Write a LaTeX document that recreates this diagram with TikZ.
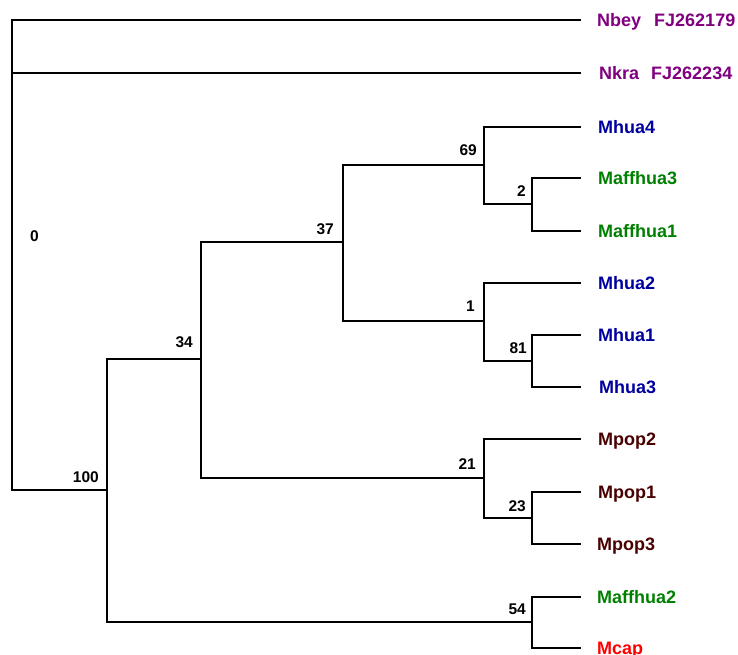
\documentclass[tikz,border=0pt]{standalone}
\usepackage{fontspec}
\setmainfont{Liberation Sans}
\definecolor{cpurple}{RGB}{128,0,128}
\definecolor{cblue}{RGB}{0,0,160}
\definecolor{cgreen}{RGB}{0,128,0}
\definecolor{cbrown}{RGB}{72,0,0}
\definecolor{cred}{RGB}{255,0,0}
\begin{document}
\begin{tikzpicture}[x=1pt,y=-1pt,
  branch/.style={draw=black,line width=2pt,line cap=rect,line join=miter},
  leaflab/.style={anchor=base west,inner sep=0pt,font=\fontsize{18}{20}\selectfont\bfseries},
  boot/.style={anchor=base east,inner sep=0pt,font=\fontsize{15.5}{18}\selectfont\bfseries}]
\useasboundingbox (0,0) rectangle (738,655);
% leaf end points
\coordinate (e1) at (580,20);
\coordinate (e2) at (580,73);
\coordinate (e3) at (580,127);
\coordinate (e4) at (580,178);
\coordinate (e5) at (580,231);
\coordinate (e6) at (580,283);
\coordinate (e7) at (580,335);
\coordinate (e8) at (580,387);
\coordinate (e9) at (580,439);
\coordinate (e10) at (580,492);
\coordinate (e11) at (580,544);
\coordinate (e12) at (580,597);
\coordinate (e13) at (580,648);
% internal nodes
\coordinate (root) at (12,490);
\coordinate (n100) at (107,490);
\coordinate (n34) at (201,359);
\coordinate (n37) at (343,242);
\coordinate (n69) at (484,165);
\coordinate (n2) at (532,204);
\coordinate (n1) at (484,321);
\coordinate (n81) at (532,361);
\coordinate (n21) at (484,478);
\coordinate (n23) at (532,518);
\coordinate (n54) at (532,622);
% branches
\path[branch] (e1) -| (root);
\path[branch] (e2) -| (root);
\path[branch] (n100) -| (root);
\path[branch] (n34) -| (n100);
\path[branch] (n54) -| (n100);
\path[branch] (n37) -| (n34);
\path[branch] (n21) -| (n34);
\path[branch] (n69) -| (n37);
\path[branch] (n1) -| (n37);
\path[branch] (e3) -| (n69);
\path[branch] (n2) -| (n69);
\path[branch] (e4) -| (n2);
\path[branch] (e5) -| (n2);
\path[branch] (e6) -| (n1);
\path[branch] (n81) -| (n1);
\path[branch] (e7) -| (n81);
\path[branch] (e8) -| (n81);
\path[branch] (e9) -| (n21);
\path[branch] (n23) -| (n21);
\path[branch] (e10) -| (n23);
\path[branch] (e11) -| (n23);
\path[branch] (e12) -| (n54);
\path[branch] (e13) -| (n54);
% leaf labels
\node[leaflab,text=cpurple] (t1) at ([xshift=17pt,yshift=-6.5pt]e1) {Nbey\hspace{13pt}FJ262179};
\node[leaflab,text=cpurple] (t2) at ([xshift=19pt,yshift=-6.5pt]e2) {Nkra\hspace{12pt}FJ262234};
\node[leaflab,text=cblue] (t3) at ([xshift=18pt,yshift=-6.5pt]e3) {Mhua4};
\node[leaflab,text=cgreen] (t4) at ([xshift=18pt,yshift=-6.5pt]e4) {Maffhua3};
\node[leaflab,text=cgreen] (t5) at ([xshift=18pt,yshift=-6.5pt]e5) {Maffhua1};
\node[leaflab,text=cblue] (t6) at ([xshift=18pt,yshift=-6.5pt]e6) {Mhua2};
\node[leaflab,text=cblue] (t7) at ([xshift=18pt,yshift=-6.5pt]e7) {Mhua1};
\node[leaflab,text=cblue] (t8) at ([xshift=19pt,yshift=-6.5pt]e8) {Mhua3};
\node[leaflab,text=cbrown] (t9) at ([xshift=18pt,yshift=-6.5pt]e9) {Mpop2};
\node[leaflab,text=cbrown] (t10) at ([xshift=18pt,yshift=-6.5pt]e10) {Mpop1};
\node[leaflab,text=cbrown] (t11) at ([xshift=17pt,yshift=-6.5pt]e11) {Mpop3};
\node[leaflab,text=cgreen] (t12) at ([xshift=17pt,yshift=-6.5pt]e12) {Maffhua2};
\node[leaflab,text=cred] (t13) at ([xshift=17pt,yshift=-6.5pt]e13) {Mcap};
% bootstrap values
\node[boot] (b0) at (39,241.5) {0};
\node[boot] (b100) at ([xshift=-8pt,yshift=8pt]n100) {100};
\node[boot] (b34) at ([xshift=-8pt,yshift=12pt]n34) {34};
\node[boot] (b37) at ([xshift=-9pt,yshift=8pt]n37) {37};
\node[boot] (b69) at ([xshift=-7pt,yshift=9pt]n69) {69};
\node[boot] (b2) at ([xshift=-6pt,yshift=8pt]n2) {2};
\node[boot] (b1) at ([xshift=-9pt,yshift=10pt]n1) {1};
\node[boot] (b81) at ([xshift=-5pt,yshift=8pt]n81) {81};
\node[boot] (b21) at ([xshift=-8pt,yshift=9pt]n21) {21};
\node[boot] (b23) at ([xshift=-6pt,yshift=7pt]n23) {23};
\node[boot] (b54) at ([xshift=-6pt,yshift=8pt]n54) {54};
\end{tikzpicture}
\end{document}
